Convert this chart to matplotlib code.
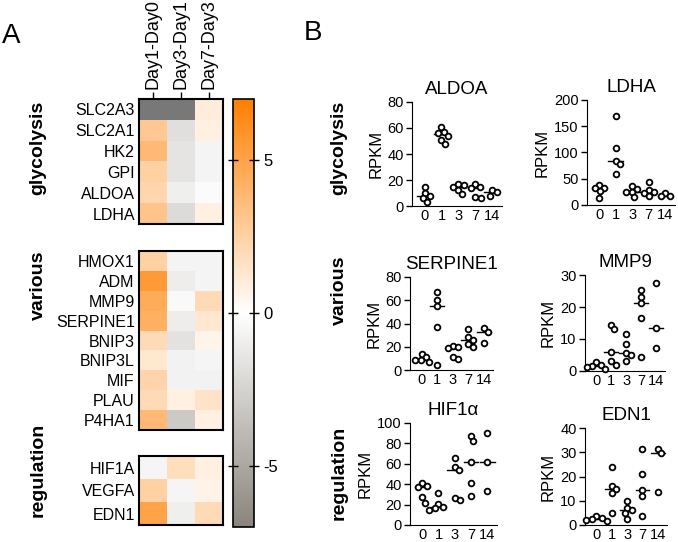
import numpy as np
import matplotlib
matplotlib.use('Agg')
import matplotlib.pyplot as plt
from matplotlib.colors import LinearSegmentedColormap

plt.rcParams['font.family'] = ['Liberation Sans', 'DejaVu Sans']
plt.rcParams['axes.unicode_minus'] = False

# ---- panel A: log2 fold changes between consecutive days ----
comparisons = ['Day1-Day0', 'Day3-Day1', 'Day7-Day3']

glyco_genes = ['SLC2A3', 'SLC2A1', 'HK2', 'GPI', 'ALDOA', 'LDHA']
glyco_fc = [[np.nan, np.nan, 1.0],
            [3.0, -1.8, 0.8],
            [3.8, -1.5, -0.6],
            [2.5, -1.5, -0.6],
            [2.2, -0.9, -0.2],
            [3.2, -2.0, 0.8]]

various_genes = ['HMOX1', 'ADM', 'MMP9', 'SERPINE1', 'BNIP3', 'BNIP3L', 'MIF', 'PLAU', 'P4HA1']
various_fc = [[2.5, -0.6, -0.6],
              [5.5, -1.0, -0.6],
              [4.5, -0.3, 2.0],
              [4.3, -1.0, 1.3],
              [2.0, -1.6, 0.6],
              [1.3, -0.7, -0.5],
              [2.3, -0.7, -0.7],
              [2.0, 0.8, 1.5],
              [3.8, -3.0, 0.8]]

reg_genes = ['HIF1A', 'VEGFA', 'EDN1']
reg_fc = [[-0.5, 1.8, 0.8],
          [2.5, -0.5, 0.7],
          [5.0, -0.9, 2.0]]

# ---- panel B: RPKM per day ----
days = ['0', '1', '3', '7', '14']
aldoa = [[15, 10, 8, 6, 3], [61, 57, 56, 54, 51, 48], [17, 16, 15, 12, 9],
         [17, 15, 14, 7, 6], [12, 11, 8]]
ldha = [[38, 33, 32, 27, 14], [170, 109, 84, 78, 60], [36, 30, 25, 24, 15],
        [43, 28, 24, 22, 17], [23, 18, 17]]
serpine1 = [[14, 11, 9, 8.5, 7], [67, 60, 55, 37, 4.5], [21, 20, 19, 11.5, 9.5],
            [35, 28, 26, 22.5, 19.5], [36, 33, 23]]
mmp9 = [[2.7, 1.8, 1.5, 1.2, 0.7], [14.5, 13, 5.9, 3.1, 2], [11.7, 8.4, 5.6, 4.9, 3.1],
        [25.3, 23.2, 21.1, 16.6, 4.4], [27.4, 13.3, 7.2]]
hif1a = [[41, 38, 37, 27, 22], [31, 21, 17.5, 17, 15], [66, 57, 54, 26, 25],
         [87, 82, 62, 41, 28.5], [90, 62, 33]]
edn1 = [[3.8, 3.0, 2.4, 2.2, 1.8], [24, 16, 14.7, 13.3, 5], [10, 7, 6.2, 4.8, 2.3],
        [31.5, 21, 14.4, 12, 3.7], [31.5, 29.5, 13.7]]

W, H = 678, 542
fig = plt.figure(figsize=(W / 100, H / 100), dpi=100)


def px_axes(x0, y0, x1, y1):
    # pixel box (top-left origin) -> figure axes
    return fig.add_axes([x0 / W, 1 - y1 / H, (x1 - x0) / W, (y1 - y0) / H])


cmap = LinearSegmentedColormap.from_list('gw_or', ['#8a847c', '#ffffff', '#ff7f00'])
cmap.set_bad('#787878')

blocks = [(glyco_genes, glyco_fc, 99, 224),
          (various_genes, various_fc, 251, 430),
          (reg_genes, reg_fc, 456, 525)]
im = None
for k, (genes, fc, top, bot) in enumerate(blocks):
    ax = px_axes(139, top, 223, bot)
    im = ax.imshow(np.array(fc, dtype=float), cmap=cmap, vmin=-7, vmax=7, aspect='auto')
    ax.set_yticks(range(len(genes)))
    ax.set_yticklabels(genes, fontsize=11.5)
    ax.tick_params(axis='y', length=0, pad=3)
    if k == 0:
        ax.xaxis.tick_top()
        ax.set_xticks(range(len(comparisons)))
        ax.set_xticklabels(comparisons, rotation=90, fontsize=13)
        ax.tick_params(axis='x', length=5, width=1, pad=2)
    else:
        ax.set_xticks([])
    for s in ax.spines.values():
        s.set_linewidth(1.5)

cax = px_axes(233, 99, 254, 527)
cb = fig.colorbar(im, cax=cax, ticks=[-5, 0, 5])
cb.outline.set_linewidth(1.2)
cax.tick_params(labelsize=12, direction='inout', length=7, width=1, left=True)

# group labels
for label, yc in [('glycolysis', 148), ('various', 285), ('regulation', 470)]:
    fig.text(38 / W, 1 - yc / H, label, rotation=90, fontsize=14, fontweight='bold',
             ha='center', va='center')
for label, yc in [('glycolysis', 148), ('various', 290), ('regulation', 473)]:
    fig.text(339 / W, 1 - yc / H, label, rotation=90, fontsize=14, fontweight='bold',
             ha='center', va='center')

fig.text(11 / W, 1 - 36 / H, 'A', fontsize=20, ha='center', va='center')
fig.text(313 / W, 1 - 33 / H, 'B', fontsize=20, ha='center', va='center')


def swarm(ax, groups, d=5.6):
    bbox = ax.get_position()
    wpx = bbox.width * W
    hpx = bbox.height * H
    xa, xb = ax.get_xlim()
    ya, yb = ax.get_ylim()
    sx = wpx / (xb - xa)
    sy = hpx / (yb - ya)
    for i, vals in enumerate(groups):
        med = np.median(vals)
        ax.plot([i - 0.45, i + 0.45], [med, med], color='k', lw=1, zorder=2,
                clip_on=False)
        placed = []
        for v in vals:
            py = v * sy
            cands = [0.0]
            for (qx, qy) in placed:
                dy = py - qy
                if abs(dy) < d:
                    dx = np.sqrt(d * d - dy * dy)
                    cands += [qx + dx, qx - dx]
            cands.sort(key=abs)
            for c in cands:
                if all((c - qx) ** 2 + (py - qy) ** 2 >= d * d - 1e-6 for qx, qy in placed):
                    placed.append((c, py))
                    break
        xs = [i + p[0] / sx for p in placed]
        ys = [p[1] / sy for p in placed]
        ax.scatter(xs, ys, s=17, facecolor='white', edgecolor='k', linewidth=1.3,
                   zorder=3, clip_on=False)


panels = [('ALDOA', aldoa, (412, 102, 502, 206), 80, 20),
          ('LDHA', ldha, (587, 100, 675, 205), 200, 50),
          ('SERPINE1', serpine1, (410, 277, 493, 370), 80, 20),
          ('MMP9', mmp9, (585, 275, 665, 371), 30, 10),
          ('HIF1\u03b1', hif1a, (410, 423, 497, 525), 100, 20),
          ('EDN1', edn1, (585, 428, 667, 525), 40, 10)]

for title, groups, box, ymax, ystep in panels:
    ax = px_axes(*box)
    ax.set_xlim(-0.75, 4.6)
    ax.set_ylim(0, ymax)
    ax.set_yticks(np.arange(0, ymax + 1, ystep))
    ax.set_xticks(range(len(days)))
    ax.set_xticklabels(days)
    ax.spines['top'].set_visible(False)
    ax.spines['right'].set_visible(False)
    ax.tick_params(labelsize=10.5, length=4, width=1, pad=2)
    ax.tick_params(axis='x', length=0, pad=2)
    ax.set_ylabel('RPKM', fontsize=12, labelpad=3)
    ax.set_title(title, fontsize=13.5, pad=6)
    swarm(ax, groups)

fig.savefig('out.png', dpi=100)
